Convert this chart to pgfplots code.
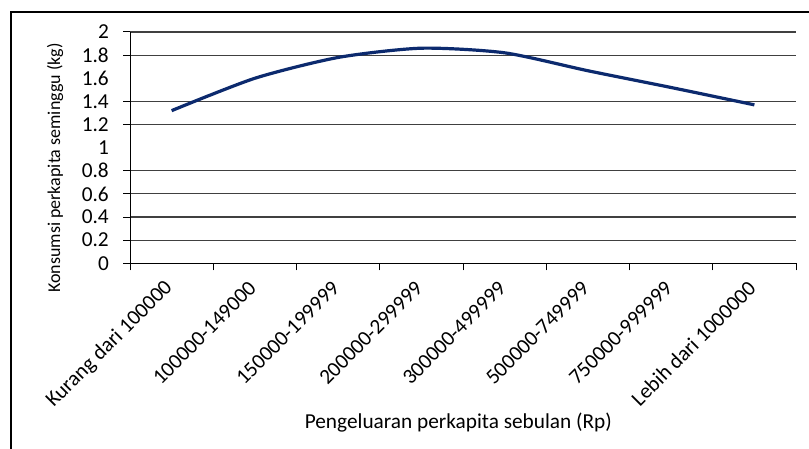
\documentclass[border=0pt]{standalone}
\usepackage{fontspec}
\setmainfont{Carlito}
\usepackage{pgfplots}
\pgfplotsset{compat=1.18}
\definecolor{navy}{RGB}{12,42,110}
\newcommand{\fs}{\fontsize{21.3bp}{25bp}\selectfont}
\newcommand{\fl}{\fontsize{18bp}{22bp}\selectfont}
\begin{document}
\begin{tikzpicture}
\useasboundingbox (0,0) rectangle (809bp,449bp);
\fill[white] (0,0) rectangle (809bp,449bp);
\draw[line width=2bp] (11bp,-2bp) -- (11bp,437bp) -- (812bp,437bp);
\begin{axis}[
  at={(130bp,185.7bp)}, anchor=south west,
  scale only axis, width=666bp, height=231.3bp,
  xmin=0, xmax=8, ymin=0, ymax=2,
  axis lines=left, axis line style={-, line width=1bp},
  tick align=outside, major tick length=7bp,
  tick style={black, line width=1bp},
  xtick={0,1,2,3,4,5,6,7,8}, xticklabels={},
  ytick={0,0.2,0.4,0.6,0.8,1.2,1.4,1.8,2},
  yticklabels={0,0.2,0.4,0.6,0.8,1.2,1.4,1.8,2},
  extra y ticks={1,1.6}, extra y tick labels={1,1.6},
  extra y tick style={grid=none, tick style={draw=none}},
  extra x ticks={0.5,1.5,2.5,3.5,4.5,5.5,6.5,7.5},
  extra x tick labels={Kurang dari 100000,100000-149000,150000-199999,200000-299999,300000-499999,500000-749999,750000-999999,Lebih dari 1000000},
  extra x tick style={grid=none, tick style={draw=none},
    xticklabel style={xshift=0bp, yshift=-12bp, rotate=45, anchor=east}},
  ymajorgrids, major grid style={black!75, line width=1.1bp},
  /pgf/number format/assume math mode=true,
  ticklabel style={font=\fs},
  yticklabel style={inner sep=0pt, xshift=-14bp},
  xlabel={Pengeluaran perkapita sebulan (Rp)},
  ylabel={Konsumsi perkapita seminggu (kg)},
  xlabel style={font=\fs, at={(axis description cs:0.493,-0.690)}, anchor=center},
  ylabel style={font=\fl, at={(axis description cs:-0.1126,0.412)}, anchor=center, rotate=0},
]
\addplot[navy, line width=3.2bp, smooth, tension=0.42] coordinates {
(0.5,1.32) (1.5,1.60) (2.5,1.78) (3.5,1.86) (4.5,1.82) (5.5,1.665) (6.5,1.52) (7.5,1.37)
};
\end{axis}
\end{tikzpicture}
\end{document}
